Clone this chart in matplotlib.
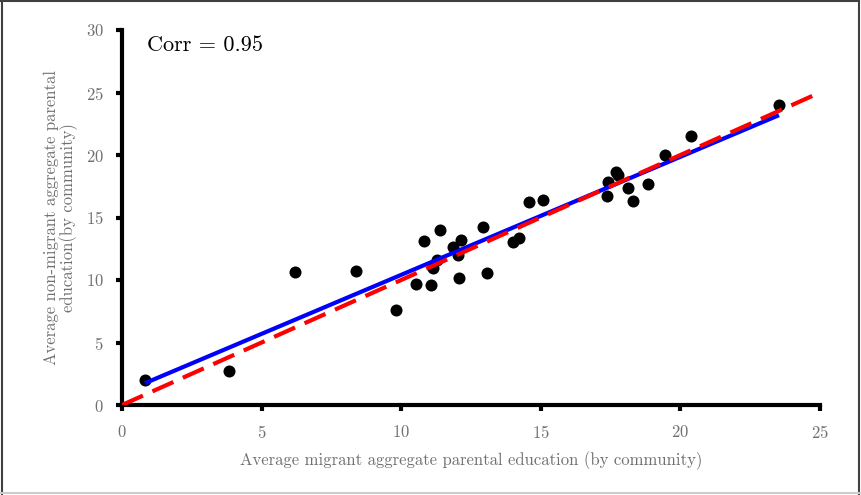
import numpy as np
import matplotlib
matplotlib.use("Agg")
import matplotlib.pyplot as plt
from matplotlib.lines import Line2D

plt.rcParams['font.family'] = 'serif'
plt.rcParams['font.serif'] = ['cmr10']
plt.rcParams['mathtext.fontset'] = 'cm'
plt.rcParams['axes.formatter.use_mathtext'] = True

migrant = [0.82, 3.83, 6.20, 8.38, 9.81, 10.53, 11.07, 10.82, 11.39, 11.14, 11.28,
           11.86, 12.03, 12.14, 12.07, 12.93, 13.07, 14.00, 14.22, 14.58, 15.08,
           23.53, 20.38, 19.45, 17.69, 17.77, 17.41, 17.37, 18.12, 18.30, 18.84]
nonmigrant = [2.00, 2.72, 10.64, 10.72, 7.60, 9.68, 9.60, 13.12, 14.00, 10.96, 11.60,
              12.64, 12.00, 13.20, 10.16, 14.24, 10.56, 13.04, 13.36, 16.24, 16.40,
              24.00, 21.52, 20.00, 18.64, 18.40, 17.84, 16.72, 17.36, 16.32, 17.68]
corr_label = "Corr = 0.95"
xlabel = "Average migrant aggregate parental education (by community)"
ylabel = "Average non-migrant aggregate parental\neducation(by community)"
xticks = [0, 5, 10, 15, 20, 25]
yticks = [0, 5, 10, 15, 20, 25, 30]

x = np.array(migrant)
y = np.array(nonmigrant)
slope, intercept = np.polyfit(x, y, 1)

fig = plt.figure(figsize=(8.61, 4.95), dpi=100)
ax = fig.add_axes([122/861, 1-405/495, (820-122)/861, (405-30)/495])

ax.scatter(x, y, s=75, color='black', zorder=3, linewidths=0)
xf = np.array([x.min(), x.max()])
ax.plot(xf, slope*xf + intercept, color='#0000ff', lw=3, solid_capstyle='butt', zorder=4)
ax.plot([0, 25], [0, 25], color='#ff0000', lw=3, ls=(0, (5.5, 2.5)), zorder=5)

ax.set_xlim(0, 25)
ax.set_ylim(0, 30)
ax.set_xticks(xticks)
ax.set_yticks(yticks)
for s in ['top', 'right']:
    ax.spines[s].set_visible(False)
for s in ['left', 'bottom']:
    ax.spines[s].set_linewidth(3)
    ax.spines[s].set_color('black')
ax.tick_params(axis='both', direction='out', length=4, width=3, color='black',
               labelcolor='#707070', labelsize=12)
ax.tick_params(axis='x', pad=10)
ax.tick_params(axis='y', pad=9)

ax.set_xlabel(xlabel, color='#707070', fontsize=12, labelpad=7)
ax.set_ylabel(ylabel, color='#707070', fontsize=12, labelpad=6, linespacing=1.0)
ax.text(0.9, 28.8, corr_label, fontsize=16, color='black', va='center', ha='left')

# figure frame
fig.add_artist(Line2D([0.002, 0.002], [0.0, 0.998], transform=fig.transFigure, color='#404040', lw=1.5))
fig.add_artist(Line2D([0.0, 0.998], [0.998, 0.998], transform=fig.transFigure, color='#404040', lw=1.5))
fig.add_artist(Line2D([0.998, 0.998], [0.0, 0.998], transform=fig.transFigure, color='#404040', lw=1.5))
fig.add_artist(Line2D([0.0, 1.0], [0.004, 0.004], transform=fig.transFigure, color='#cccccc', lw=1.5))

fig.savefig('out.png', dpi=100)
